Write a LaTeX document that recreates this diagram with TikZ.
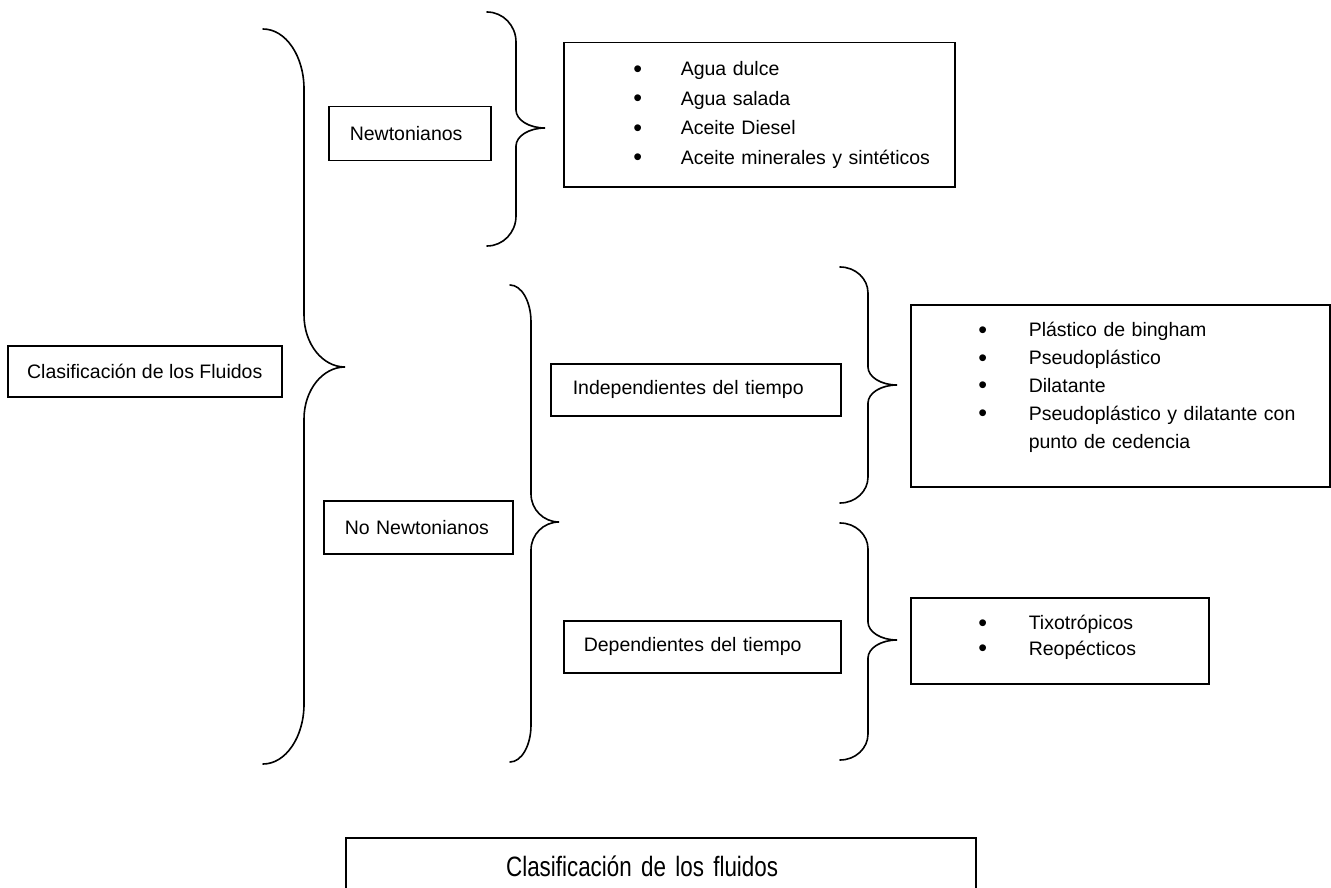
\documentclass[tikz,border=0pt]{standalone}
\usepackage{fontspec}
\setmainfont{Liberation Sans}
\newfontfamily\captionfont[FakeStretch=0.8]{Liberation Sans}
\usetikzlibrary{calc}

% curly brace opening to the left, tip pointing right
% #1 x of the ends, #2 x of the spine, #3 x of the tip
% #4 y top, #5 y tip, #6 y bottom, #7 end hook radius, #8 tip hook radius
\newcommand\drawbrace[8]{%
  \draw[bracestroke] (#1,#4)
    .. controls ({#1+0.552*(#2-#1)},#4) and (#2,{#4+0.448*#7}) .. (#2,{#4+#7})
    -- (#2,{#5-#8})
    .. controls (#2,{#5-0.448*#8}) and ({#3-0.552*(#3-#2)},#5) .. (#3,#5)
    .. controls ({#3-0.552*(#3-#2)},#5) and (#2,{#5+0.448*#8}) .. (#2,{#5+#8})
    -- (#2,{#6-#7})
    .. controls (#2,{#6-0.448*#7}) and ({#1+0.552*(#2-#1)},#6) .. (#1,#6);}

% bullet line of a list: bullet centre offset, gap to text, text
\newcommand\litem[3]{\hspace*{#1pt}\makebox[0pt]{\raisebox{-1.5pt}{\fontsize{25}{25}\selectfont\textbullet}}\hspace*{#2pt}#3}
% extra room under the last line of a list
\newcommand\bottomroom[1]{\rule[-#1pt]{0pt}{1pt}}

\tikzset{
  bracestroke/.style={line width=1.6pt, line cap=round},
  framebox/.style={draw, line width=1.5pt, anchor=north west, inner ysep=0pt,
    font=\fontsize{19.5}{23}\selectfont},
  labelbox/.style={framebox, align=left},
  listbox/.style={framebox, align=left, inner xsep=0pt},
}

\begin{document}
\begin{tikzpicture}[x=1pt, y=-1pt]
  \fill[white] (0,0) rectangle (1331,888);
  \useasboundingbox (0,0) rectangle (1331,888);

  % root
  \node[framebox, minimum width=274pt, minimum height=51pt] (clasif) at (7,345)
    {Clasificación de los Fluidos};

  % first level
  \node[labelbox, text width=120pt, inner xsep=21pt, minimum height=54pt] (newt) at (328,106)
    {Newtonianos};
  \node[labelbox, text width=147pt, inner xsep=21pt, minimum height=53pt] (nonewt) at (323,500)
    {No Newtonianos};

  % second level
  \node[labelbox, text width=246pt, inner xsep=22pt, minimum height=52pt] (indep) at (550,363)
    {Independientes del tiempo};
  \node[labelbox, text width=237pt, inner xsep=20pt, minimum height=52pt] (dep) at (563,620)
    {Dependientes del tiempo};

  % examples
  \node[listbox, text width=391pt, minimum height=144pt,
        font=\fontsize{19.5}{29.5}\selectfont] (ejnewt) at (563,42)
    {\litem{74}{43}{Agua dulce}\\
     \litem{74}{43}{Agua salada}\\
     \litem{74}{43}{Aceite Diesel}\\
     \litem{74}{43}{Aceite minerales y sintéticos}};
  \node[listbox, text width=419pt, minimum height=182pt,
        font=\fontsize{19.5}{27.8}\selectfont] (ejindep) at (910,304)
    {\litem{72}{46}{Plástico de bingham}\\
     \litem{72}{46}{Pseudoplástico}\\
     \litem{72}{46}{Dilatante}\\
     \litem{72}{46}{Pseudoplástico y dilatante con}\\
     \hspace*{118pt}punto de cedencia\bottomroom{21}};
  \node[listbox, text width=298pt, minimum height=86pt,
        font=\fontsize{19.5}{25.5}\selectfont] (ejdep) at (910,597)
    {\litem{72}{46}{Tixotrópicos}\\
     \litem{72}{46}{Reopécticos}\bottomroom{11}};

  % braces
  \drawbrace{263}{304}{345}{29}{367}{764}{60}{52}
  \drawbrace{487}{516}{545}{12}{128}{246}{30}{18}
  \drawbrace{510}{531}{559}{285}{522}{762}{37}{28}
  \drawbrace{840}{868}{897}{267}{385}{503}{26}{18}
  \drawbrace{840}{868}{897}{523}{640}{760}{26}{18}

  % caption
  \node[draw, line width=2.2pt, anchor=north west, inner ysep=0pt, align=left,
        text width=310pt, inner xsep=160pt, minimum height=56pt,
        font=\captionfont\fontsize{28}{28}\selectfont] (caption) at (345,837)
    {Clasificación de los fluidos};
\end{tikzpicture}
\end{document}
